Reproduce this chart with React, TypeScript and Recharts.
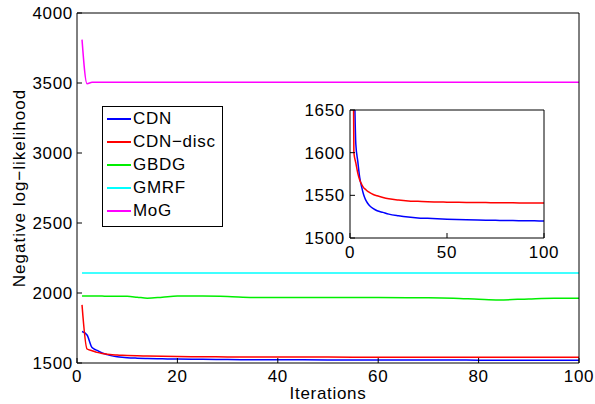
import React from 'react';
import { LineChart, Line, XAxis, YAxis, Legend, CartesianGrid } from 'recharts';

const iterations = [1, 2, 3, 4, 5, 6, 7, 8, 9, 10, 12, 14, 17, 20, 25, 30, 35, 40, 50, 60, 70, 75, 80, 84, 90, 95, 100];

const cdn = [1725, 1700, 1610, 1590, 1571, 1560, 1551, 1545, 1541, 1538, 1534.5, 1532, 1530, 1528, 1526, 1524.5, 1523.5, 1523, 1522, 1521.3, 1520.9, 1520.7, 1520.5, 1520.4, 1520.2, 1520.1, 1520];
const cdnDisc = [1915, 1600, 1588, 1576, 1568, 1563, 1559, 1557, 1555, 1553.5, 1551, 1549.5, 1547.5, 1546, 1544.5, 1543.5, 1543, 1542.5, 1542, 1541.7, 1541.5, 1541.4, 1541.3, 1541.2, 1541.1, 1541, 1541];
const gbdg = [1978, 1978, 1978, 1978, 1978, 1977, 1977, 1977, 1976, 1976, 1970, 1963, 1970, 1978, 1978, 1975, 1968, 1967, 1967, 1967, 1966, 1963, 1955, 1950, 1958, 1963, 1962];
const gmrf = [2143, 2143, 2143, 2143, 2143, 2143, 2143, 2143, 2143, 2143, 2143, 2143, 2143, 2143, 2143, 2143, 2143, 2143, 2143, 2143, 2143, 2143, 2143, 2143, 2143, 2143, 2143];
const mog = [3810, 3495, 3505, 3505, 3505, 3505, 3505, 3505, 3505, 3505, 3505, 3505, 3505, 3505, 3505, 3505, 3505, 3505, 3505, 3505, 3505, 3505, 3505, 3505, 3505, 3505, 3505];

const xTicks = [0, 20, 40, 60, 80, 100];
const yTicks = [1500, 2000, 2500, 3000, 3500, 4000];
const insetXTicks = [0, 50, 100];
const insetYTicks = [1500, 1550, 1600, 1650];

const data = iterations.map((it, i) => ({
  it,
  cdn: cdn[i],
  cdnDisc: cdnDisc[i],
  gbdg: gbdg[i],
  gmrf: gmrf[i],
  mog: mog[i],
}));

const font = '"Liberation Sans", Arial, Helvetica, sans-serif';
const tickStyle = { fill: '#000', fontSize: 17, fontFamily: font, letterSpacing: 0.7 };

const LegendBox = (props: any) => {
  const items = props.payload || [];
  return (
    <div style={{ border: '1px solid #000', background: '#fff', width: 119, padding: '0 0 4px 0' }}>
      {items.map((item: any) => (
        <div key={item.value} style={{ display: 'flex', alignItems: 'center', height: 23 }}>
          <span style={{ display: 'inline-block', width: 24, borderTop: `2px solid ${item.color}`, marginLeft: 4, marginRight: 2 }} />
          <span style={{ fontSize: 17, letterSpacing: 0.7, fontFamily: font, color: '#000', lineHeight: '23px' }}>{item.value}</span>
        </div>
      ))}
    </div>
  );
};

export default function App() {
  return (
    <div style={{ position: 'absolute', left: 0, top: 0, width: 595, height: 404, background: '#fff' }}>
      <LineChart width={595} height={404} data={data} margin={{ top: 12, right: 15, left: 0, bottom: 0 }}>
        <XAxis
          xAxisId="b"
          dataKey="it"
          type="number"
          domain={[0, 100]}
          ticks={xTicks}
          allowDataOverflow
          height={41}
          tickSize={-5}
          tickMargin={12}
          tick={tickStyle}
          stroke="#000"
          label={{ value: 'Iterations', position: 'insideBottom', offset: 5, style: { fill: '#000', fontSize: 17, fontFamily: font, letterSpacing: 0.7 } }}
        />
        <XAxis xAxisId="t" orientation="top" type="number" domain={[0, 100]} ticks={xTicks} allowDataOverflow height={1} tickSize={-5} tick={false} stroke="#000" />
        <YAxis
          yAxisId="l"
          type="number"
          domain={[1500, 4000]}
          ticks={yTicks}
          allowDataOverflow
          width={77}
          tickSize={-5}
          tickMargin={9}
          tick={tickStyle}
          stroke="#000"
          label={{ value: 'Negative log−likelihood', angle: -90, position: 'center', dx: -20, style: { fill: '#000', fontSize: 17, fontFamily: font, letterSpacing: 1, textAnchor: 'middle' } }}
        />
        <YAxis yAxisId="r" orientation="right" type="number" domain={[1500, 4000]} ticks={yTicks} allowDataOverflow width={1} tickSize={-5} tick={false} stroke="#000" />
        <Legend
          layout="vertical"
          align="center"
          verticalAlign="middle"
          content={LegendBox}
          wrapperStyle={{ left: 102, top: 106, width: 121 }}
        />
        <Line xAxisId="b" yAxisId="l" type="monotone" dataKey="cdn" name="CDN" stroke="#0000ff" strokeWidth={1.5} dot={false} isAnimationActive={false} />
        <Line xAxisId="b" yAxisId="l" type="monotone" dataKey="cdnDisc" name="CDN−disc" stroke="#ff0000" strokeWidth={1.5} dot={false} isAnimationActive={false} />
        <Line xAxisId="b" yAxisId="l" type="monotone" dataKey="gbdg" name="GBDG" stroke="#00ee00" strokeWidth={1.5} dot={false} isAnimationActive={false} />
        <Line xAxisId="b" yAxisId="l" type="monotone" dataKey="gmrf" name="GMRF" stroke="#00ffff" strokeWidth={1.5} dot={false} isAnimationActive={false} />
        <Line xAxisId="b" yAxisId="l" type="monotone" dataKey="mog" name="MoG" stroke="#ff00ff" strokeWidth={1.5} dot={false} isAnimationActive={false} />
      </LineChart>

      {/* zoomed inset */}
      <div style={{ position: 'absolute', left: 295, top: 100 }}>
        <LineChart width={275} height={165} data={data} margin={{ top: 9, right: 25, left: 0, bottom: 0 }}>
          <CartesianGrid xAxisId="b" yAxisId="l" horizontal={false} vertical={false} fill="#fff" />
          <XAxis xAxisId="b" dataKey="it" type="number" domain={[0, 100]} ticks={insetXTicks} allowDataOverflow height={27} tickSize={-5} tickMargin={13} tick={tickStyle} stroke="#000" />
          <XAxis xAxisId="t" orientation="top" type="number" domain={[0, 100]} ticks={insetXTicks} allowDataOverflow height={1} tickSize={-5} tick={false} stroke="#000" />
          <YAxis yAxisId="l" type="number" domain={[1500, 1650]} ticks={insetYTicks} allowDataOverflow width={55} tickSize={-5} tickMargin={10} tick={tickStyle} stroke="#000" />
          <YAxis yAxisId="r" orientation="right" type="number" domain={[1500, 1650]} ticks={insetYTicks} allowDataOverflow width={1} tickSize={-5} tick={false} stroke="#000" />
          <Line xAxisId="b" yAxisId="l" type="monotone" dataKey="cdn" stroke="#0000ff" strokeWidth={1.5} dot={false} isAnimationActive={false} />
          <Line xAxisId="b" yAxisId="l" type="monotone" dataKey="cdnDisc" stroke="#ff0000" strokeWidth={1.5} dot={false} isAnimationActive={false} />
        </LineChart>
      </div>
    </div>
  );
}
